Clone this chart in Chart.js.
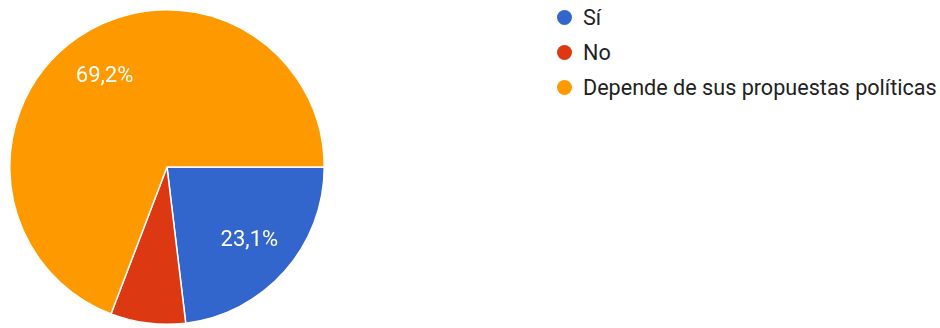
<!DOCTYPE html>
<html>
<head>
<meta charset="utf-8">
<script src="https://cdn.jsdelivr.net/npm/chart.js@4"></script>
<style>
  html, body { margin: 0; padding: 0; background: #fff; }
  body { width: 940px; height: 328px; position: relative; overflow: hidden; font-family: Roboto, Arial, sans-serif; }
  #pieBox { position: absolute; left: 9px; top: 9px; width: 316px; height: 316px; }
  #legend { position: absolute; left: 557px; top: 0px; }
  .item { display: flex; align-items: center; height: 35px; font-size: 21.6px; color: #222; }
  .dot { width: 15px; height: 15px; border-radius: 50%; margin-right: 11px; }
</style>
</head>
<body>
<div id="pieBox"><canvas id="pie"></canvas></div>
<div id="legend"></div>
<script>
const labels = ['Sí', 'No', 'Depende de sus propuestas políticas'];
const percents = [23.1, 7.7, 69.2];
const colors = ['#3366cc', '#dc3912', '#ff9900'];

// percentage text inside the bigger slices
const sliceLabels = {
  id: 'sliceLabels',
  afterDatasetsDraw(chart) {
    const ctx = chart.ctx;
    const meta = chart.getDatasetMeta(0);
    ctx.save();
    ctx.font = '22px Roboto, Arial, sans-serif';
    ctx.fillStyle = '#ffffff';
    ctx.textAlign = 'center';
    ctx.textBaseline = 'middle';
    meta.data.forEach((arc, i) => {
      if (percents[i] < 10) return;
      const mid = (arc.startAngle + arc.endAngle) / 2;
      const r = arc.outerRadius * 0.7;
      const x = arc.x + Math.cos(mid) * r;
      const y = arc.y + Math.sin(mid) * r;
      ctx.fillText(percents[i].toFixed(1).replace('.', ',') + '%', x, y);
    });
    ctx.restore();
  }
};

new Chart(document.getElementById('pie'), {
  type: 'pie',
  data: {
    labels: labels,
    datasets: [{
      data: percents,
      backgroundColor: colors,
      borderColor: '#ffffff',
      borderWidth: 1.5
    }]
  },
  options: {
    responsive: true,
    maintainAspectRatio: false,
    animation: false,
    rotation: 90,
    layout: { padding: 0 },
    plugins: {
      legend: { display: false },
      tooltip: { enabled: false }
    }
  },
  plugins: [sliceLabels]
});

const legend = document.getElementById('legend');
labels.forEach((name, i) => {
  const row = document.createElement('div');
  row.className = 'item';
  row.innerHTML = '<span class="dot" style="background:' + colors[i] + '"></span>' + name;
  legend.appendChild(row);
});
</script>
</body>
</html>
